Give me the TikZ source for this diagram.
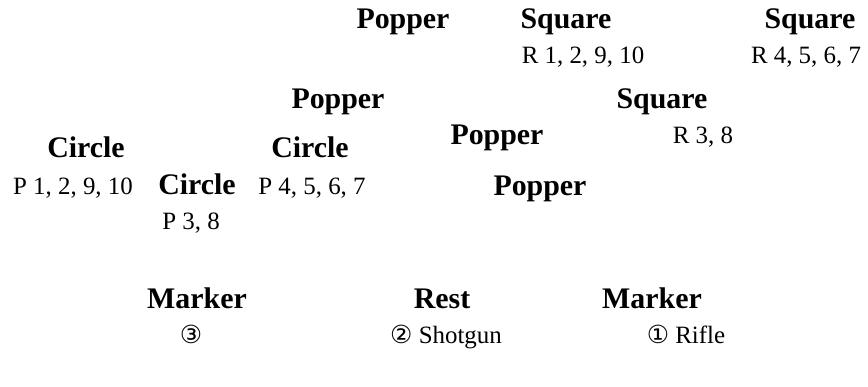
\documentclass[tikz,border=0pt]{standalone}
\usepackage{fontspec}
\setmainfont{Liberation Serif}
\newfontfamily\circfont{DejaVu Sans}
\begin{document}
\begin{tikzpicture}[x=1bp,y=-1bp,
  title/.style={font=\fontsize{30}{32}\selectfont\bfseries, inner sep=0pt,
    text height=20bp, text depth=6bp},
  sub/.style={font=\fontsize{25}{27}\selectfont, inner sep=0pt,
    text height=17bp, text depth=5bp}]
\useasboundingbox (0,0) rectangle (868,386);
% top row: popper and squares
\node[title] (pop1) at (403,21) {Popper};
\node[title] (sq1) at (566,21) {Square};
\node[title] (sq2) at (810,21) {Square};
\node[sub] (r1) at (583,57) {R 1, 2, 9, 10};
\node[sub] (r2) at (806,57) {R 4, 5, 6, 7};
% second band
\node[title] (pop2) at (338,101) {Popper};
\node[title] (sq3) at (662,101) {Square};
\node[title] (pop3) at (497,137) {Popper};
\node[sub] (r3) at (703,137) {R 3, 8};
% circles
\node[title] (c1) at (86,150) {Circle};
\node[title] (c2) at (310,150) {Circle};
\node[sub] (p1) at (73,188) {P 1, 2, 9, 10};
\node[title] (c3) at (197,187) {Circle};
\node[sub] (p2) at (312,188) {P 4, 5, 6, 7};
\node[title] (pop4) at (540,188) {Popper};
\node[sub] (p3) at (191,223) {P 3, 8};
% shooting positions
\node[title] (m1) at (197,301) {Marker};
\node[title] (rest) at (442,301) {Rest};
\node[title] (m2) at (652,301) {Marker};
\node[sub] (s3) at (191,337) {{\circfont ③}};
\node[sub] (s2) at (446,337) {{\circfont ②} Shotgun};
\node[sub] (s1) at (686,337) {{\circfont ①} Rifle};
\end{tikzpicture}
\end{document}
